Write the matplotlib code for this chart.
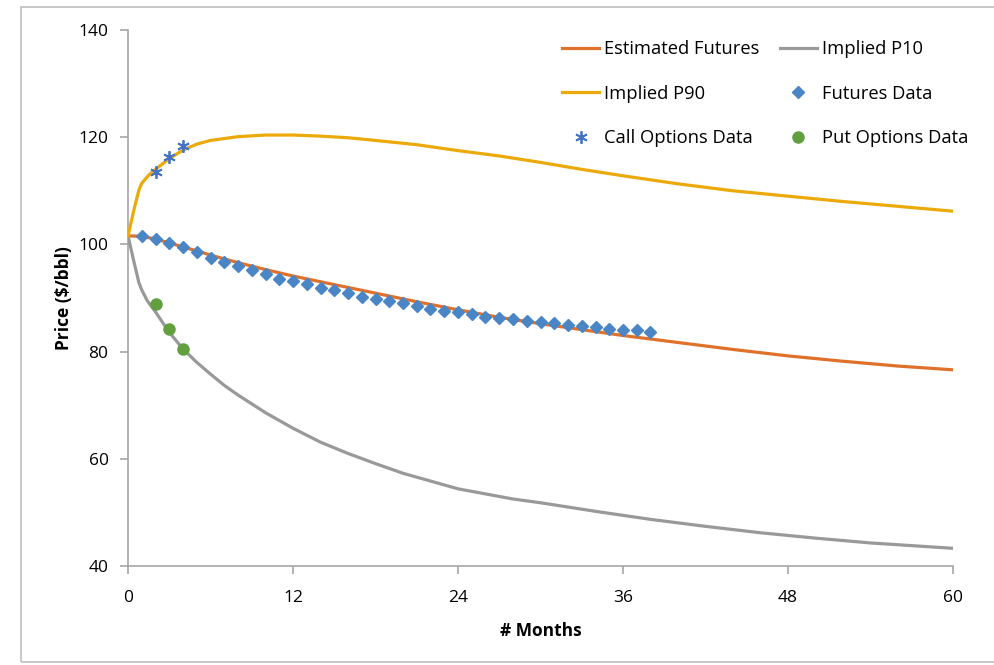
import matplotlib
matplotlib.use('Agg')
import matplotlib.pyplot as plt
from matplotlib.patches import Rectangle

# values
months_fut = list(range(1, 39))
futures_data = [101.6, 101.0, 100.3, 99.6, 98.5, 97.5, 96.7, 96.0, 95.2, 94.5,
                93.6, 93.1, 92.7, 91.8, 91.4, 90.9, 90.2, 89.8, 89.5, 89.1,
                88.6, 88.0, 87.5, 87.3, 87.0, 86.5, 86.3, 86.0, 85.8, 85.5,
                85.3, 85.0, 84.8, 84.5, 84.3, 84.0, 84.0, 83.7]

months_opt = [2, 3, 4]
call_data = [113.6, 116.3, 118.4]
put_data = [88.8, 84.2, 80.4]

months_est = [0, 1, 2, 3, 4, 5, 6, 8, 10, 12, 15, 18, 21, 24, 27, 30, 33, 36,
              40, 44, 48, 52, 56, 60]
est_futures = [101.6, 101.5, 101.0, 100.3, 99.5, 98.8, 98.0, 96.6, 95.3, 94.1,
               92.5, 90.9, 89.3, 87.8, 86.4, 85.2, 84.1, 83.0, 81.7, 80.4,
               79.2, 78.2, 77.3, 76.6]

months_p90 = [0, 0.5, 0.8, 1, 1.5, 2, 3, 4, 5, 6, 8, 10, 12, 14, 16, 18, 21,
              24, 27, 30, 33, 36, 40, 44, 48, 52, 56, 60]
p90 = [101.6, 107.2, 110.2, 111.4, 112.9, 114.0, 116.0, 117.6, 118.7, 119.4,
       120.1, 120.4, 120.4, 120.2, 119.9, 119.4, 118.6, 117.5, 116.5, 115.3,
       114.0, 112.8, 111.3, 110.0, 109.0, 108.0, 107.1, 106.2]

months_p10 = [0, 0.4, 0.8, 1, 1.4, 2, 3, 4, 5, 6, 7, 8, 10, 12, 14, 16, 18, 20,
              24, 28, 30, 34, 38, 42, 46, 50, 54, 60]
p10 = [101.6, 97.1, 92.8, 91.5, 89.5, 87.4, 83.6, 80.5, 78.0, 75.8, 73.7,
       71.9, 68.6, 65.7, 63.1, 61.0, 59.1, 57.3, 54.4, 52.5, 51.8, 50.2,
       48.7, 47.4, 46.2, 45.2, 44.3, 43.3]

plt.rcParams['font.family'] = ['Open Sans', 'DejaVu Sans']

fig = plt.figure(figsize=(9.95, 6.65), dpi=100)
ax = fig.add_axes([128 / 995, 1 - 566 / 665, 825 / 995, 536 / 665])

fig.patches.append(Rectangle((21.5 / 995, 1 - 661.5 / 665), 1.1, (661.5 - 7) / 665,
                             transform=fig.transFigure, fill=False,
                             edgecolor='#BFBFBF', linewidth=1.2))

l_est, = ax.plot(months_est, est_futures, color='#E0712B', lw=2.3, label='Estimated Futures', zorder=3)
l_p10, = ax.plot(months_p10, p10, color='#999999', lw=2.3, label='Implied P10', zorder=3)
l_p90, = ax.plot(months_p90, p90, color='#EBAA0A', lw=2.3, label='Implied P90', zorder=3)
l_fut, = ax.plot(months_fut, futures_data, linestyle='none', marker='D', markersize=6.5,
                 color='#4A86C5', label='Futures Data', zorder=4)
l_call, = ax.plot(months_opt, call_data, linestyle='none', marker=(6, 2, 0), markersize=9,
                  markeredgewidth=1.3, color='#4472C4', label='Call Options Data', zorder=4)
l_put, = ax.plot(months_opt, put_data, linestyle='none', marker='o', markersize=8,
                 color='#62A03F', label='Put Options Data', zorder=4)

ax.set_xlim(0, 60)
ax.set_ylim(40, 140)
ax.set_xticks([0, 12, 24, 36, 48, 60])
ax.set_yticks([40, 60, 80, 100, 120, 140])
for s in ['top', 'right']:
    ax.spines[s].set_visible(False)
for s in ['left', 'bottom']:
    ax.spines[s].set_color('#A6A6A6')
    ax.spines[s].set_linewidth(1.2)
ax.tick_params(colors='#A6A6A6', labelcolor='black', labelsize=12.5, length=6, width=1.2)
ax.tick_params(axis='x', pad=11)
ax.tick_params(axis='y', pad=8)

ax.set_xlabel('# Months', fontsize=12.5, fontweight='bold', labelpad=12)
ax.set_ylabel('Price ($/bbl)', fontsize=12.5, fontweight='bold', labelpad=4)

# row-major order like the original legend
handles = [l_est, l_p90, l_call, l_p10, l_fut, l_put]
ax.legend(handles=handles, labels=[h.get_label() for h in handles],
          loc='upper left', bbox_to_anchor=(555 / 995, 1 - 33 / 665),
          bbox_transform=fig.transFigure, ncol=2, frameon=False,
          fontsize=13.2, numpoints=1, handlelength=2.0, handletextpad=0.3,
          labelspacing=1.45, columnspacing=1.1, borderaxespad=0)

fig.savefig('out.png', dpi=100)
